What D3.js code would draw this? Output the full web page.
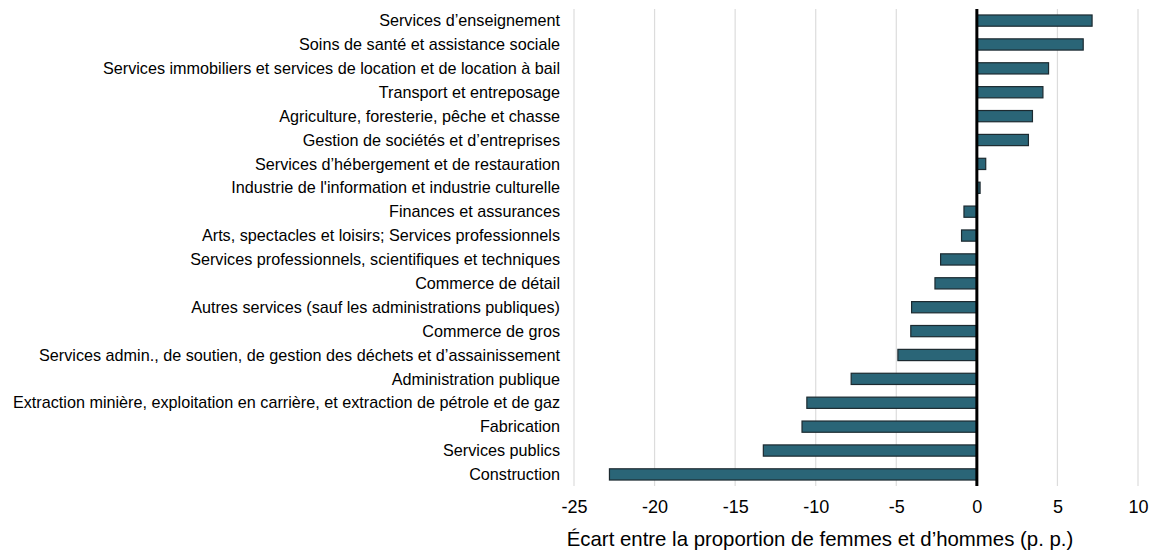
<!DOCTYPE html>
<html>
<head>
<meta charset="utf-8">
<script src="https://cdn.jsdelivr.net/npm/d3@7"></script>
<style>
  body { margin: 0; background: #fff; }
  svg text { font-family: "Liberation Sans", Arial, sans-serif; fill: #000; }
</style>
</head>
<body>
<div id="chart"></div>
<script>
const width = 1150;
const height = 550;

// industries, top to bottom
const categories = [
  "Services d’enseignement",
  "Soins de santé et assistance sociale",
  "Services immobiliers et services de location et de location à bail",
  "Transport et entreposage",
  "Agriculture, foresterie, pêche et chasse",
  "Gestion de sociétés et d’entreprises",
  "Services d’hébergement et de restauration",
  "Industrie de l'information et industrie culturelle",
  "Finances et assurances",
  "Arts, spectacles et loisirs; Services professionnels",
  "Services professionnels, scientifiques et techniques",
  "Commerce de détail",
  "Autres services (sauf les administrations publiques)",
  "Commerce de gros",
  "Services admin., de soutien, de gestion des déchets et d’assainissement",
  "Administration publique",
  "Extraction minière, exploitation en carrière, et extraction de pétrole et de gaz",
  "Fabrication",
  "Services publics",
  "Construction"
];

// gap between share of women and men (p.p.)
const gap = [7.15, 6.6, 4.45, 4.1, 3.45, 3.2, 0.55, 0.2, -0.8, -0.95, -2.25, -2.6,
  -4.05, -4.1, -4.9, -7.8, -10.55, -10.85, -13.25, -22.8];

const xTicks = [-25, -20, -15, -10, -5, 0, 5, 10];
const xTitle = "Écart entre la proportion de femmes et d’hommes (p. p.)";

const margin = {top: 9, right: 12, bottom: 64, left: 574};

const svg = d3.select("#chart").append("svg")
  .attr("width", width)
  .attr("height", height);

const x = d3.scaleLinear()
  .domain([-25, 10])
  .range([margin.left, width - margin.right]);

const y = d3.scaleBand()
  .domain(categories)
  .range([margin.top, height - margin.bottom])
  .paddingInner(0.53)
  .paddingOuter(0.25);

// vertical gridlines
svg.append("g")
  .selectAll("line")
  .data(xTicks.filter(d => d !== 0))
  .enter().append("line")
    .attr("x1", d => x(d))
    .attr("x2", d => x(d))
    .attr("y1", margin.top)
    .attr("y2", height - margin.bottom)
    .attr("stroke", "#dcdcdc")
    .attr("stroke-width", 1.2);

// bars
svg.append("g")
  .selectAll("rect")
  .data(categories)
  .enter().append("rect")
    .attr("x", (d, i) => x(Math.min(0, gap[i])))
    .attr("width", (d, i) => Math.abs(x(gap[i]) - x(0)))
    .attr("y", d => y(d))
    .attr("height", y.bandwidth())
    .attr("fill", "#2a6577")
    .attr("stroke", "#1c2a30")
    .attr("stroke-width", 1.2);

// zero line
svg.append("line")
  .attr("x1", x(0))
  .attr("x2", x(0))
  .attr("y1", margin.top)
  .attr("y2", height - margin.bottom)
  .attr("stroke", "#000")
  .attr("stroke-width", 3);

// category labels
svg.append("g")
  .selectAll("text")
  .data(categories)
  .enter().append("text")
    .attr("x", 560)
    .attr("y", d => y(d) + y.bandwidth() / 2)
    .attr("dy", "0.35em")
    .attr("text-anchor", "end")
    .style("font-size", "16.2px")
    .text(d => d);

// x axis
const xAxis = svg.append("g")
  .attr("transform", `translate(0,${height - margin.bottom})`)
  .call(d3.axisBottom(x).tickValues(xTicks).tickSize(0).tickPadding(14));
xAxis.select(".domain").remove();
xAxis.selectAll("text")
  .style("font-size", "18px")
  .style("font-family", "'Liberation Sans', Arial, sans-serif")
  .attr("fill", "#000")
  .text(d => d < 0 ? "-" + Math.abs(d) : d);

svg.append("text")
  .attr("x", 820)
  .attr("y", 546)
  .attr("text-anchor", "middle")
  .style("font-size", "20.4px")
  .text(xTitle);
</script>
</body>
</html>
